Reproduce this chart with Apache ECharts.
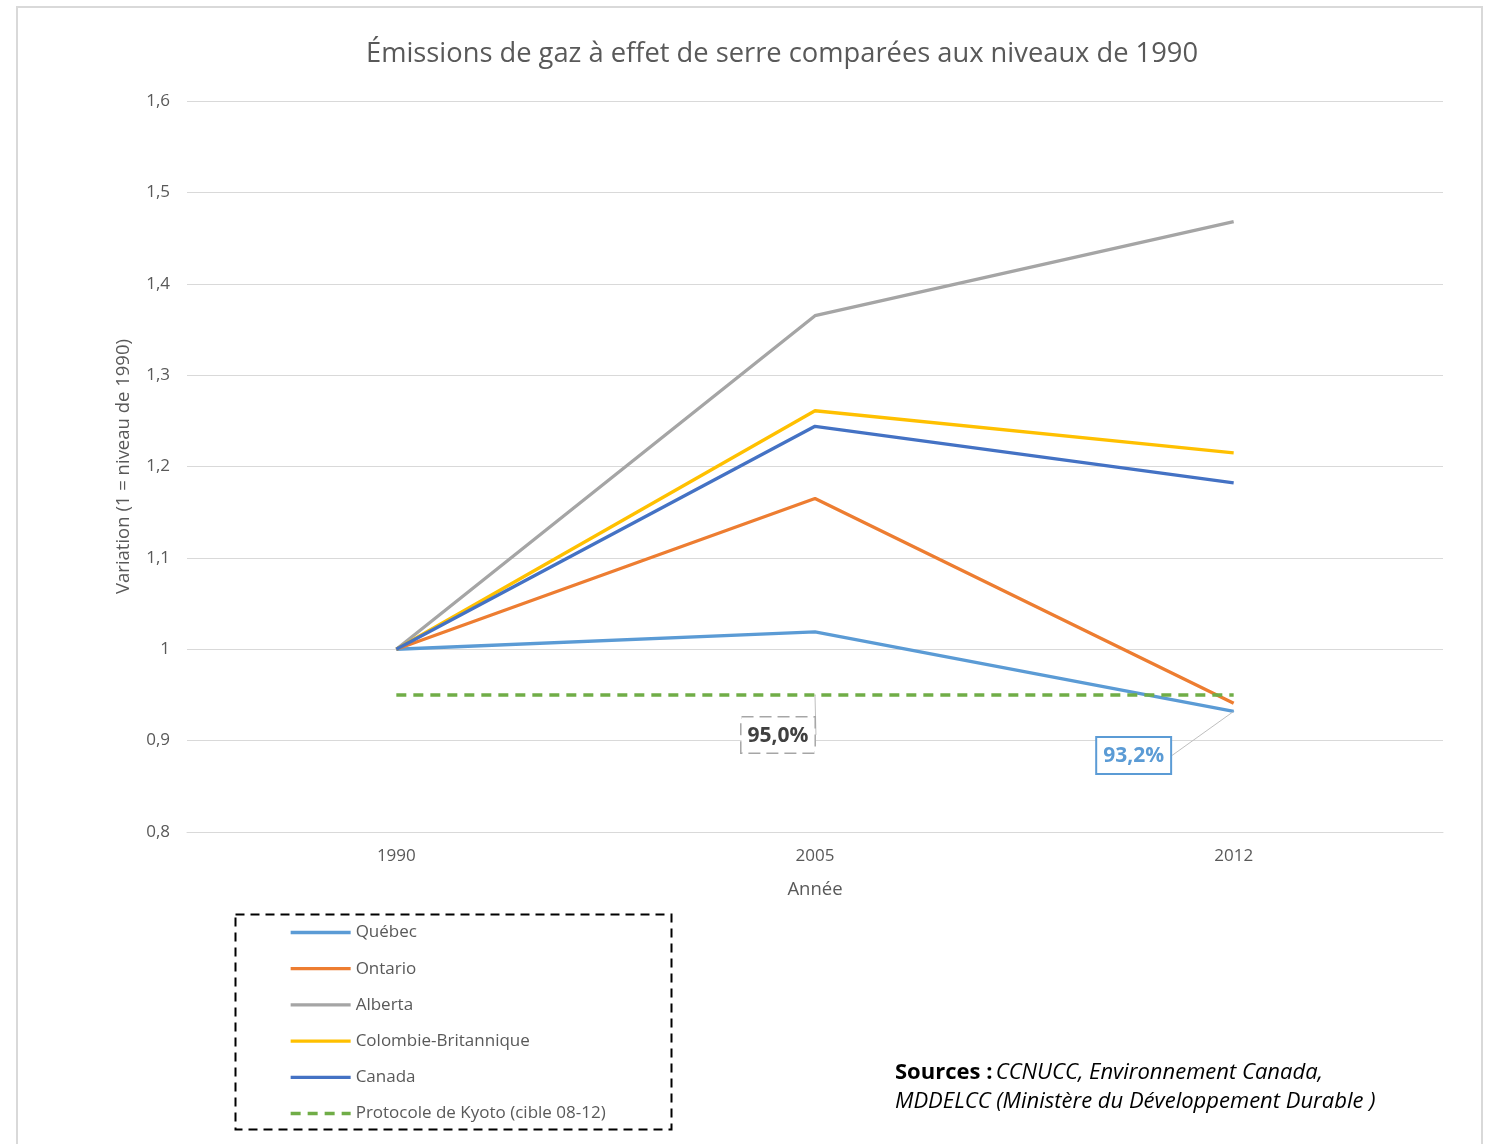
<!DOCTYPE html>
<html>
<head>
<meta charset="utf-8">
<script src="https://cdn.jsdelivr.net/npm/echarts@6/dist/echarts.min.js"></script>
<style>
  html, body { margin: 0; padding: 0; background: #fff; }
  #chart { width: 1486px; height: 1144px; }
</style>
</head>
<body>
<div id="chart"></div>
<script>
// Years on the horizontal axis
const years = ['1990', '2005', '2012'];

// Emissions relative to 1990 (1 = 1990 level)
const quebec = [1, 1.019, 0.932];
const ontario = [1, 1.165, 0.941];
const alberta = [1, 1.365, 1.468];
const colombieBritannique = [1, 1.261, 1.215];
const canada = [1, 1.244, 1.182];
const kyoto = [0.95, 0.95, 0.95];

const seriesNames = ['Québec', 'Ontario', 'Alberta', 'Colombie-Britannique', 'Canada', 'Protocole de Kyoto (cible 08-12)'];

const FONT = '"Open Sans", Lato, sans-serif';
const GREY_TEXT = '#595959';

const pct = v => (v * 100).toFixed(1).replace('.', ',') + '%';

// Mark one point of a series with a boxed callout label
function withCallout(values, index, labelStyle) {
  return values.map((v, i) => i === index
    ? { value: v, symbol: 'circle', symbolSize: 1, label: Object.assign({ show: true }, labelStyle) }
    : v);
}

const chart = echarts.init(document.getElementById('chart'), null, { renderer: 'canvas' });

const lineBase = (name, data, color) => ({
  name: name,
  type: 'line',
  data: data,
  symbol: 'none',
  lineStyle: { color: color, width: 3.3 },
  itemStyle: { color: color },
  emphasis: { disabled: true },
  z: 2
});

const calloutText = {
  position: 'bottom',
  formatter: p => pct(p.value),
  fontFamily: FONT,
  fontSize: 21,
  fontWeight: 'bold',
  backgroundColor: '#fff',
  padding: [8, 6, 6, 6]
};

const quebecSeries = lineBase(seriesNames[0], withCallout(quebec, 2, Object.assign({}, calloutText, {
  color: '#5B9BD5',
  borderColor: '#5B9BD5',
  borderWidth: 2
})), '#5B9BD5');
quebecSeries.labelLayout = { dx: -100, dy: 21 };
quebecSeries.labelLine = { show: true, lineStyle: { color: '#bfbfbf', width: 1 } };

const kyotoSeries = lineBase(seriesNames[5], withCallout(kyoto, 1, Object.assign({}, calloutText, {
  color: '#404040',
  borderColor: '#a6a6a6',
  borderWidth: 1.5,
  borderType: 'dashed'
})), '#70AD47');
kyotoSeries.lineStyle = { color: '#70AD47', width: 3.5, type: [10, 7] };
kyotoSeries.labelLayout = { dx: -37, dy: 17 };
kyotoSeries.labelLine = { show: true, lineStyle: { color: '#bfbfbf', width: 1 } };

chart.setOption({
  backgroundColor: '#fff',
  animation: false,
  title: {
    text: 'Émissions de gaz à effet de serre comparées aux niveaux de 1990',
    left: 366,
    top: 41,
    padding: 0,
    textStyle: { fontFamily: FONT, fontSize: 27.3, fontWeight: 'normal', color: GREY_TEXT }
  },
  grid: { left: 187, right: 43, top: 101, bottom: 312 },
  xAxis: {
    type: 'category',
    data: years,
    boundaryGap: true,
    name: 'Année',
    nameLocation: 'middle',
    nameGap: 48,
    nameTextStyle: { fontFamily: FONT, fontSize: 18.5, color: GREY_TEXT },
    axisLine: { show: true, lineStyle: { color: '#d9d9d9', width: 1 } },
    axisTick: { show: false },
    axisLabel: { fontFamily: FONT, fontSize: 17, color: GREY_TEXT, margin: 16 }
  },
  yAxis: {
    type: 'value',
    min: 0.8,
    max: 1.6,
    interval: 0.1,
    name: 'Variation (1 = niveau de 1990)',
    nameLocation: 'middle',
    nameGap: 54,
    nameRotate: 90,
    nameTextStyle: { fontFamily: FONT, fontSize: 18.5, color: GREY_TEXT },
    axisLine: { show: false },
    axisTick: { show: false },
    axisLabel: {
      fontFamily: FONT, fontSize: 17, color: GREY_TEXT, margin: 17,
      formatter: v => {
        const r = Math.round(v * 10) / 10;
        return Number.isInteger(r) ? String(r) : r.toFixed(1).replace('.', ',');
      }
    },
    splitLine: { lineStyle: { color: '#d9d9d9', width: 1 } }
  },
  legend: {
    orient: 'vertical',
    left: 289,
    top: 924,
    padding: 0,
    itemWidth: 60,
    itemHeight: 14,
    itemGap: 19.2,
    selectedMode: false,
    data: seriesNames,
    itemStyle: { opacity: 0, borderWidth: 0 },
    lineStyle: { width: 3.3 },
    textStyle: { fontFamily: FONT, fontSize: 17, color: GREY_TEXT, padding: [0, 0, 0, 0] }
  },
  graphic: [
    {
      type: 'rect',
      silent: true,
      shape: { x: 17, y: 7, width: 1465, height: 1160 },
      style: { fill: null, stroke: '#d9d9d9', lineWidth: 2 },
      z: -10
    },
    {
      type: 'rect',
      silent: true,
      shape: { x: 235.5, y: 914.5, width: 436, height: 215 },
      style: { fill: null, stroke: '#000', lineWidth: 2, lineDash: [9, 6] }
    },
    {
      type: 'text',
      silent: true,
      left: 895,
      top: 1062,
      style: {
        text: '{b|Sources :} {i|CCNUCC, Environnement Canada,}\n{i|MDDELCC (Ministère du Développement Durable )}',
        rich: {
          b: { fontFamily: FONT, fontSize: 22, fontWeight: 'bold', color: '#000', lineHeight: 29 },
          i: { fontFamily: FONT, fontSize: 22, fontStyle: 'italic', color: '#000', lineHeight: 29 }
        }
      }
    }
  ],
  series: [
    quebecSeries,
    lineBase(seriesNames[1], ontario, '#ED7D31'),
    lineBase(seriesNames[2], alberta, '#A5A5A5'),
    lineBase(seriesNames[3], colombieBritannique, '#FFC000'),
    lineBase(seriesNames[4], canada, '#4472C4'),
    kyotoSeries
  ]
});
</script>
</body>
</html>
